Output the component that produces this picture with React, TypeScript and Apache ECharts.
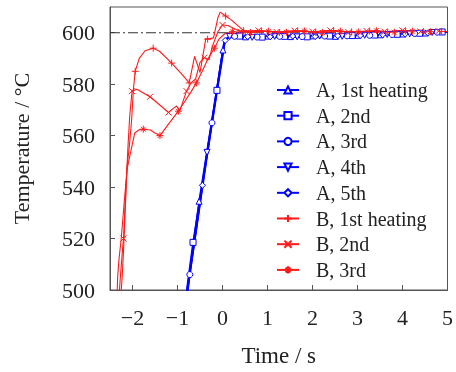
import React, { useEffect, useRef } from 'react';
import * as echarts from 'echarts';

const X_TICKS = [-2, -1, 0, 1, 2, 3, 4, 5];
const Y_TICKS = [500, 520, 540, 560, 580, 600];
const SETPOINT = 600;

const NAMES = ['A, 1st heating', 'A, 2nd', 'A, 3rd', 'A, 4th', 'A, 5th', 'B, 1st heating', 'B, 2nd', 'B, 3rd'];

// [time s, temperature °C, marker shown (1) or not (0)]
type Pt = [number, number, number];

const A1: Pt[] = [
  [-0.8, 498, 0], [-0.52, 534.5, 1], [0.01, 593.3, 1], [0.08, 597.8, 0], [0.2, 598.6, 0],
  [0.51, 598.4, 1], [1.01, 598.7, 1], [1.51, 598.5, 1], [2.01, 598.8, 1], [2.51, 598.6, 1],
  [3.01, 599.0, 1], [3.51, 599.2, 1], [4.01, 599.5, 1], [4.51, 599.9, 1], [5.0, 600.3, 0],
];
const A2: Pt[] = [
  [-0.81, 498, 0], [-0.655, 518.5, 1], [-0.123, 577.6, 1], [0.05, 596.5, 0], [0.15, 598.3, 0],
  [0.38, 598.7, 1], [0.88, 598.3, 1], [1.38, 598.6, 1], [1.88, 598.4, 1], [2.38, 598.7, 1],
  [2.88, 598.9, 1], [3.38, 599.1, 1], [3.88, 599.4, 1], [4.38, 599.8, 1], [4.88, 600.3, 1], [5.0, 600.2, 0],
];
const A3: Pt[] = [
  [-0.78, 498, 0], [-0.726, 506, 1], [-0.234, 565, 1], [0.04, 596.8, 0], [0.14, 598.4, 0],
  [0.27, 598.6, 1], [0.77, 598.3, 1], [1.27, 598.6, 1], [1.77, 598.5, 1], [2.27, 598.7, 1],
  [2.77, 598.8, 1], [3.27, 599.0, 1], [3.77, 599.3, 1], [4.27, 599.7, 1], [4.77, 600.2, 1], [5.0, 600.4, 0],
];
const A4: Pt[] = [
  [-0.79, 498, 0], [-0.344, 553.5, 1], [0.03, 596, 0], [0.16, 598.5, 1], [0.66, 598.2, 1],
  [1.16, 598.6, 1], [1.66, 598.4, 1], [2.16, 598.7, 1], [2.66, 598.6, 1], [3.16, 599.0, 1],
  [3.66, 599.3, 1], [4.16, 599.6, 1], [4.66, 600.1, 1], [5.0, 600.3, 0],
];
const A5: Pt[] = [
  [-0.8, 498, 0], [-0.446, 540.7, 1], [0.06, 597, 1], [0.15, 598.4, 0], [0.56, 598.5, 1],
  [1.06, 598.4, 1], [1.56, 598.7, 1], [2.06, 598.5, 1], [2.56, 598.8, 1], [3.06, 598.9, 1],
  [3.56, 599.2, 1], [4.06, 599.5, 1], [4.56, 599.9, 1], [5.0, 600.4, 0],
];

const B1: Pt[] = [
  [-2.27, 495, 0], [-2.23, 505, 0], [-2.2, 515, 0], [-2.16, 532, 0], [-2.12, 548, 0], [-2.07, 556, 0],
  [-2.02, 566, 0], [-1.98, 578, 0], [-1.94, 585, 1], [-1.85, 590, 0], [-1.72, 593, 0], [-1.54, 594, 1],
  [-1.4, 592.8, 0], [-1.13, 588.2, 1], [-0.9, 583.8, 0], [-0.74, 580.5, 1], [-0.62, 590.8, 0],
  [-0.5, 584.5, 0], [-0.37, 597.8, 0], [-0.33, 597.5, 1], [-0.2, 598, 0], [-0.1, 606, 0], [-0.05, 608, 0],
  [0.07, 606.5, 1], [0.2, 604.9, 0], [0.47, 600.8, 1], [0.6, 600.4, 0], [0.87, 600.6, 1], [1.27, 600.1, 1],
  [1.67, 600.7, 1], [2.07, 600.2, 1], [2.47, 600.8, 1], [2.87, 600.3, 1], [3.27, 600.6, 1], [3.67, 600.2, 1],
  [4.07, 600.7, 1], [4.47, 600.3, 1], [4.87, 600.5, 1], [5.0, 600.4, 0],
];
const B2: Pt[] = [
  [-2.31, 495, 0], [-2.27, 505, 0], [-2.22, 516, 0], [-2.2, 520, 1], [-2.15, 538, 0], [-2.1, 556, 0],
  [-2.06, 568, 0], [-2.01, 577.3, 1], [-1.9, 578, 0], [-1.75, 576.5, 0], [-1.61, 575.1, 1], [-1.4, 572, 0],
  [-1.2, 569, 1], [-1.1, 570.5, 0], [-1.02, 571.5, 0], [-0.95, 569.5, 0], [-0.8, 577.3, 1], [-0.7, 580.5, 0],
  [-0.6, 582, 0], [-0.5, 588.5, 0], [-0.4, 590.3, 1], [-0.3, 589.5, 0], [-0.22, 595, 0], [-0.1, 600.5, 0],
  [0.0, 603, 1], [0.12, 602.8, 0], [0.4, 600.4, 1], [0.8, 600.9, 1], [1.2, 600.3, 1], [1.6, 600.8, 1],
  [2.0, 600.4, 1], [2.4, 600.9, 1], [2.8, 600.2, 1], [3.2, 600.7, 1], [3.6, 600.4, 1], [4.0, 600.9, 1],
  [4.4, 600.5, 1], [4.8, 600.6, 1], [5.0, 600.5, 0],
];
const B3: Pt[] = [
  [-2.35, 495, 0], [-2.33, 505, 0], [-2.3, 512, 0], [-2.25, 520, 0], [-2.18, 535, 0], [-2.12, 547, 0],
  [-2.06, 552, 0], [-2.0, 557, 0], [-1.95, 561, 0], [-1.85, 562.3, 0], [-1.76, 562.5, 1], [-1.6, 562.2, 0],
  [-1.5, 561, 0], [-1.39, 560, 1], [-1.2, 564.5, 0], [-0.98, 569.5, 1], [-0.85, 573, 0], [-0.7, 577, 0],
  [-0.58, 580.5, 1], [-0.45, 585, 0], [-0.32, 590, 0], [-0.18, 594, 1], [-0.08, 597.5, 0], [0.05, 599.6, 0],
  [0.22, 600.4, 1], [0.62, 600.1, 1], [1.02, 600.6, 1], [1.42, 600.2, 1], [1.82, 600.7, 1], [2.22, 600.1, 1],
  [2.62, 600.6, 1], [3.02, 600.3, 1], [3.42, 600.8, 1], [3.82, 600.2, 1], [4.22, 600.6, 1], [4.62, 600.4, 1],
  [5.0, 600.5, 0],
];

const BLUE = '#0000ff';
const RED = '#ff1a1a';
const FONT = 'Liberation Serif';

const PLUS = 'path://M5,0L5,10M0,5L10,5';
const CROSS = 'path://M0,0L10,10M10,0L0,10';
const STAR = 'path://M5,0L5,10M0,5L10,5M1.6,1.6L8.4,8.4M8.4,1.6L1.6,8.4';

const toData = (pts: Pt[]) =>
  pts.map((p) => (p[2] ? { value: [p[0], p[1]] } : { value: [p[0], p[1]], symbol: 'none' }));

function mk(name: string, pts: Pt[], color: string, symbol: string, size: number, width: number, rotate = 0) {
  return {
    name,
    type: 'line',
    data: toData(pts),
    symbol,
    symbolSize: size,
    symbolRotate: rotate,
    showSymbol: true,
    showAllSymbol: true,
    lineStyle: { color, width },
    itemStyle: { color: '#ffffff', borderColor: color, borderWidth: 1 },
    emphasis: { disabled: true },
    z: 3,
  };
}

export default function App() {
  const ref = useRef<HTMLDivElement>(null);
  useEffect(() => {
    if (!ref.current) return;
    const chart = echarts.init(ref.current, undefined, { renderer: 'svg' });
    const series: any[] = [
      {
        name: 'setpoint',
        type: 'line',
        data: [[-2.5, SETPOINT], [5, SETPOINT]],
        symbol: 'none',
        silent: true,
        lineStyle: { color: '#333', width: 1.2, type: [10, 3, 2, 3] },
        z: 1,
      },
      mk(NAMES[0], A1, BLUE, 'triangle', 6, 1.6),
      mk(NAMES[1], A2, BLUE, 'rect', 6, 1.6),
      mk(NAMES[2], A3, BLUE, 'circle', 6, 1.6),
      mk(NAMES[3], A4, BLUE, 'triangle', 6, 1.6, 180),
      mk(NAMES[4], A5, BLUE, 'diamond', 6, 1.6),
      mk(NAMES[5], B1, RED, PLUS, 7, 1.1),
      mk(NAMES[6], B2, RED, CROSS, 6, 1.1),
      mk(NAMES[7], B3, RED, STAR, 7, 1.1),
    ];
    chart.setOption({
      animation: false,
      textStyle: { fontFamily: FONT },
      grid: { left: 110, right: 7, top: 7, bottom: 80, show: true, borderColor: '#555', borderWidth: 1 },
      legend: {
        data: NAMES,
        orient: 'vertical',
        left: 276,
        top: 80,
        padding: 0,
        itemWidth: 22,
        itemHeight: 9,
        itemGap: 5.7,
        textStyle: { fontFamily: FONT, fontSize: 20, color: '#222', padding: [0, 0, 0, 12] },
      },
      xAxis: {
        type: 'value',
        min: -2.5,
        max: 5,
        name: 'Time / s',
        nameLocation: 'middle',
        nameGap: 54,
        nameTextStyle: { fontFamily: FONT, fontSize: 23, color: '#222' },
        axisLine: { show: true, onZero: false, lineStyle: { color: '#555' } },
        axisTick: { show: true, inside: true, length: 5, customValues: X_TICKS, lineStyle: { color: '#555' } },
        axisLabel: {
          customValues: X_TICKS,
          fontFamily: FONT,
          fontSize: 22,
          color: '#222',
          margin: 16,
          formatter: (v: number) => String(v).replace('-', '\u2212'),
        },
        splitLine: { show: false },
      },
      yAxis: {
        type: 'value',
        min: 500,
        max: 610,
        name: 'Temperature / °C',
        nameLocation: 'middle',
        nameGap: 78,
        nameTextStyle: { fontFamily: FONT, fontSize: 22, color: '#222' },
        axisLine: { show: true, onZero: false, lineStyle: { color: '#555' } },
        axisTick: { show: true, inside: true, length: 5, customValues: Y_TICKS, lineStyle: { color: '#555' } },
        axisLabel: { customValues: Y_TICKS, fontFamily: FONT, fontSize: 22, color: '#222', margin: 15 },
        splitLine: { show: false },
      },
      series,
    });
    return () => chart.dispose();
  }, []);
  return <div ref={ref} style={{ position: 'fixed', left: 0, top: 0, width: 456, height: 372 }} />;
}
